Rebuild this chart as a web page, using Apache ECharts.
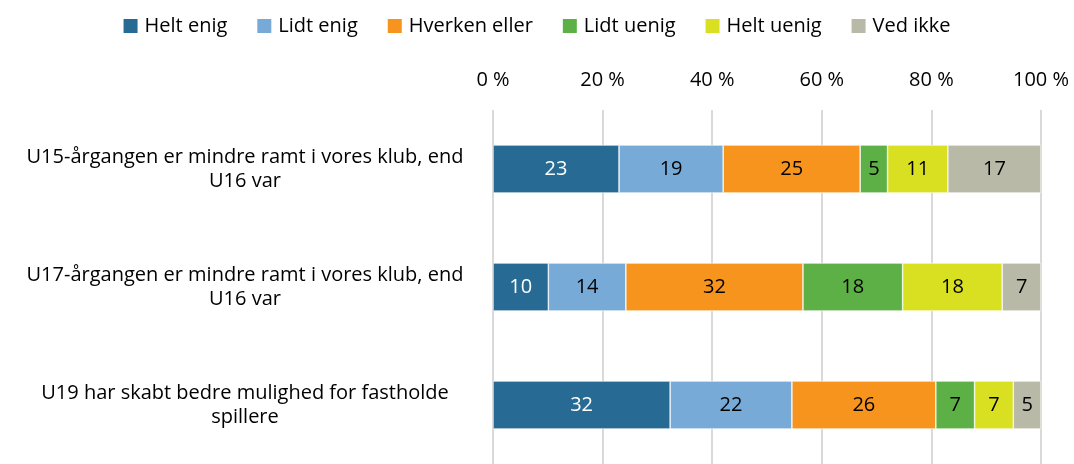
<!DOCTYPE html>
<html>
<head>
<meta charset="utf-8">
<title>U-årgange</title>
<script src="https://cdn.jsdelivr.net/npm/echarts@6/dist/echarts.min.js"></script>
<style>
  html, body { margin: 0; padding: 0; background: #fff; }
  #main { width: 1074px; height: 464px; }
</style>
</head>
<body>
<div id="main"></div>
<script type="text/javascript">
// data
var categories = [
    'U15-årgangen er mindre ramt i vores klub, end\nU16 var',
    'U17-årgangen er mindre ramt i vores klub, end\nU16 var',
    'U19 har skabt bedre mulighed for fastholde\nspillere'
];
var seriesNames = ['Helt enig', 'Lidt enig', 'Hverken eller', 'Lidt uenig', 'Helt uenig', 'Ved ikke'];
var helt_enig   = [23, 10, 32];
var lidt_enig   = [19, 14, 22];
var hverken     = [25, 32, 26];
var lidt_uenig  = [5, 18, 7];
var helt_uenig  = [11, 18, 7];
var ved_ikke    = [17, 7, 5];
var tickLabels = ['0 %', '20 %', '40 %', '60 %', '80 %', '100 %'];

var colors = ['#276a93', '#78aad7', '#f7941e', '#5db045', '#d8e021', '#b9b9a7'];
var labelColors = ['#fff', '#000', '#000', '#000', '#000', '#000'];
var FONT = 'Open Sans';
var FS = 20;

var allSeries = [helt_enig, lidt_enig, hverken, lidt_uenig, helt_uenig, ved_ikke];
// row sums, percent stacked like in excel
var totals = categories.map(function (c, i) {
    var s = 0;
    allSeries.forEach(function (arr) { s += arr[i]; });
    return s;
});

var chart = echarts.init(document.getElementById('main'));

chart.setOption({
    textStyle: { fontFamily: FONT },
    animation: false,
    color: colors,
    legend: {
        data: seriesNames,
        top: 11,
        left: 'center',
        itemWidth: 14,
        itemHeight: 14,
        itemGap: 30,
        itemStyle: { borderWidth: 0 },
        icon: 'rect',
        textStyle: { fontFamily: FONT, fontSize: FS, color: '#000', padding: [0, 0, 0, 2] }
    },
    grid: { left: 493, right: 33, top: 110, bottom: -6 },
    xAxis: {
        type: 'value',
        position: 'top',
        min: 0,
        max: 100,
        interval: 20,
        axisLine: { show: false },
        axisTick: { show: false },
        splitLine: { lineStyle: { color: '#d9d9d9', width: 2 } },
        axisLabel: {
            margin: 20,
            fontFamily: FONT,
            fontSize: FS,
            color: '#000',
            formatter: function (v) { return tickLabels[v / 20]; }
        }
    },
    yAxis: {
        type: 'category',
        data: categories,
        inverse: true,
        axisLine: { show: false },
        axisTick: { show: false },
        axisLabel: {
            margin: 248,
            align: 'center',
            fontFamily: FONT,
            fontSize: FS,
            lineHeight: 24,
            padding: [4, 0, 0, 0],
            color: '#000'
        }
    },
    series: allSeries.map(function (arr, k) {
        return {
            name: seriesNames[k],
            type: 'bar',
            stack: 'all',
            barWidth: 48,
            itemStyle: { borderColor: '#fff', borderWidth: 0.6 },
            label: {
                show: true,
                fontFamily: FONT,
                fontSize: FS,
                color: labelColors[k],
                formatter: function (p) { return arr[p.dataIndex]; }
            },
            data: arr.map(function (v, i) { return v / totals[i] * 100; })
        };
    })
});

window.onresize = function () {
    chart.resize();
};
</script>
</body>
</html>
